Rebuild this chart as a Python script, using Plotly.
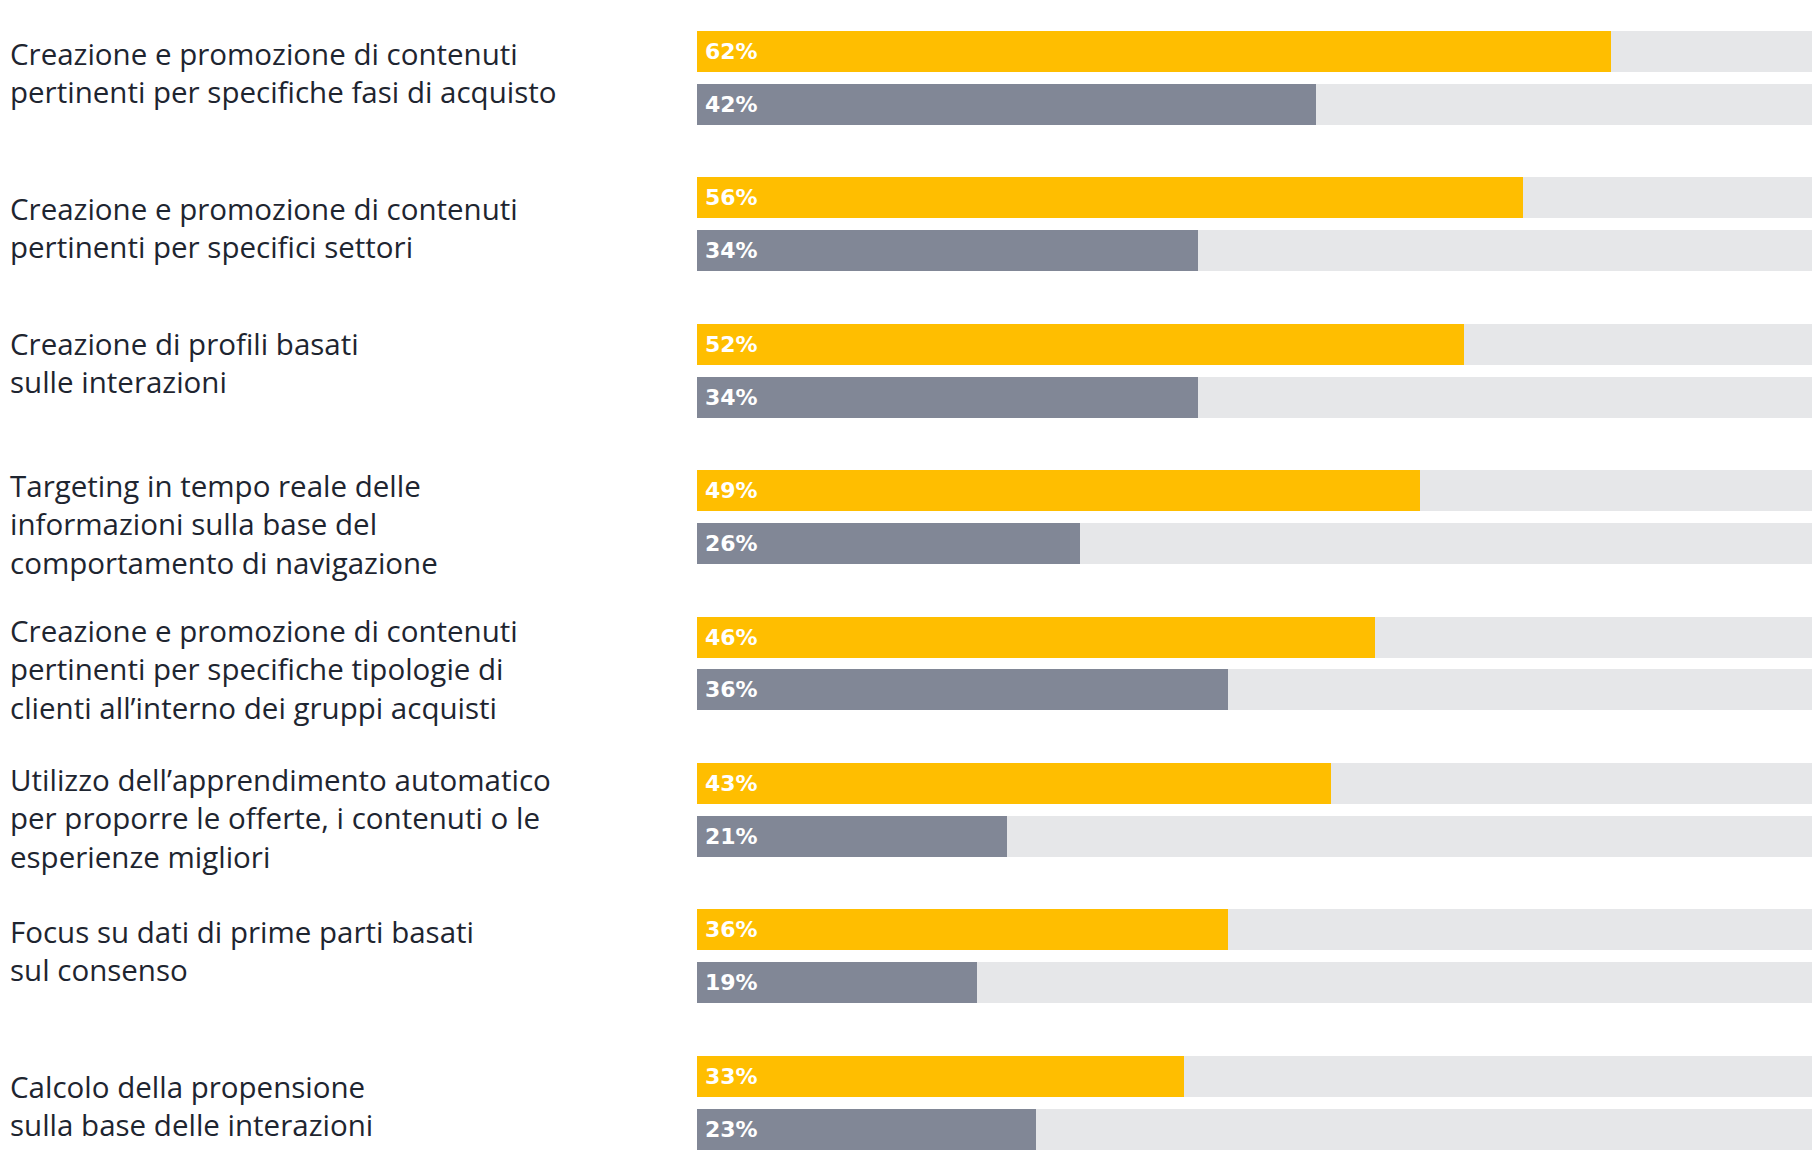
import plotly.graph_objects as go

categories = [
    "Creazione e promozione di contenuti<br>pertinenti per specifiche fasi di acquisto",
    "Creazione e promozione di contenuti<br>pertinenti per specifici settori",
    "Creazione di profili basati<br>sulle interazioni",
    "Targeting in tempo reale delle<br>informazioni sulla base del<br>comportamento di navigazione",
    "Creazione e promozione di contenuti<br>pertinenti per specifiche tipologie di<br>clienti all\u2019interno dei gruppi acquisti",
    "Utilizzo dell\u2019apprendimento automatico<br>per proporre le offerte, i contenuti o le<br>esperienze migliori",
    "Focus su dati di prime parti basati<br>sul consenso",
    "Calcolo della propensione<br>sulla base delle interazioni",
]
series_gold = [62, 56, 52, 49, 46, 43, 36, 33]
series_gray = [42, 34, 34, 26, 36, 21, 19, 23]
full_scale = [100] * len(categories)

# layout-only settings
W, H = 1812, 1156
GOLD = "#FFBE00"
GRAY = "#818796"
TRACK = "#E6E7E9"
TEXT = "#1E2530"
pair_offset = 0.3607
bar_w = 0.28
label_shift_px = [-5, 3, -8, 7, 5, 8, -6, 3]

n = len(categories)
y_gold = [i for i in range(n)]
y_gray = [i + pair_offset for i in range(n)]

fig = go.Figure()
fig.add_trace(go.Bar(x=full_scale, y=y_gold, orientation="h", width=bar_w,
                     marker=dict(color=TRACK, line=dict(width=0)), hoverinfo="skip"))
fig.add_trace(go.Bar(x=full_scale, y=y_gray, orientation="h", width=bar_w,
                     marker=dict(color=TRACK, line=dict(width=0)), hoverinfo="skip"))
fig.add_trace(go.Bar(x=series_gold, y=y_gold, orientation="h", width=bar_w,
                     marker=dict(color=GOLD, line=dict(width=0))))
fig.add_trace(go.Bar(x=series_gray, y=y_gray, orientation="h", width=bar_w,
                     marker=dict(color=GRAY, line=dict(width=0))))

pct_font = dict(family="DejaVu Sans", size=22, color="white", weight="bold")
label_font = dict(family="Open Sans", size=29.5, color=TEXT)
annotations = []
for i in range(n):
    annotations.append(dict(x=0, y=y_gold[i], xref="x", yref="y", text=f"{series_gold[i]}%",
                            xanchor="left", yanchor="middle", xshift=6, showarrow=False,
                            font=pct_font))
    annotations.append(dict(x=0, y=y_gray[i], xref="x", yref="y", text=f"{series_gray[i]}%",
                            xanchor="left", yanchor="middle", xshift=6, showarrow=False,
                            font=pct_font))
    annotations.append(dict(x=8 / W, xref="paper", y=(y_gold[i] + y_gray[i]) / 2, yref="y",
                            text=categories[i], xanchor="left", yanchor="middle", align="left",
                            yshift=-label_shift_px[i], showarrow=False, font=label_font))

fig.update_layout(
    width=W, height=H,
    margin=dict(l=0, r=0, t=0, b=0),
    paper_bgcolor="white", plot_bgcolor="white",
    barmode="overlay", bargap=0, showlegend=False,
    xaxis=dict(range=[0, 75.63], domain=[696.7 / W, 1], visible=False, fixedrange=True),
    yaxis=dict(range=[7.544, -0.352], visible=False, fixedrange=True),
    annotations=annotations,
)
fig.write_html("out.html")
